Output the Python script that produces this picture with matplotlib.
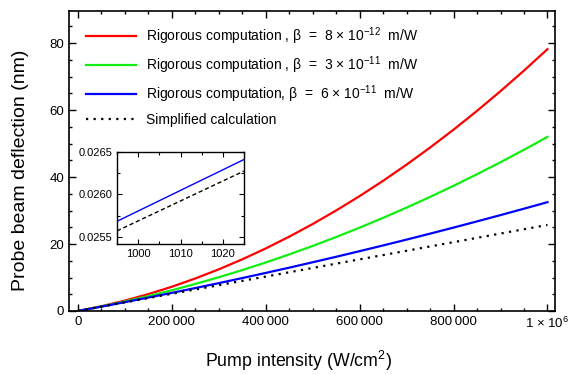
import matplotlib
matplotlib.use("Agg")
import matplotlib.pyplot as plt
from matplotlib.ticker import MultipleLocator, FixedLocator

plt.rcParams['font.family'] = ['Liberation Sans', 'DejaVu Sans']
plt.rcParams['mathtext.fontset'] = 'custom'
plt.rcParams['mathtext.rm'] = 'Liberation Sans'
plt.rcParams['mathtext.it'] = 'Liberation Sans:italic'
plt.rcParams['mathtext.bf'] = 'Liberation Sans:bold'

# ---- data ----
intensity = [0, 50000, 100000, 150000, 200000, 250000, 300000, 350000, 400000, 450000,
             500000, 550000, 600000, 650000, 700000, 750000, 800000, 850000, 900000,
             950000, 1000000]
red_beta8e12 = [0, 1.42, 3.10, 5.04, 7.24, 9.71, 12.44, 15.43, 18.68, 22.20, 25.98,
                30.02, 34.32, 38.89, 43.72, 48.81, 54.16, 59.78, 65.66, 71.80, 78.2]
green_beta3e11 = [0, 1.35, 2.83, 4.45, 6.19, 8.07, 10.08, 12.22, 14.49, 16.89, 19.43,
                  22.09, 24.89, 27.82, 30.88, 34.07, 37.39, 40.85, 44.43, 48.15, 52.0]
blue_beta6e11 = [0, 1.30, 2.64, 4.01, 5.41, 6.85, 8.32, 9.83, 11.37, 12.94, 14.55,
                 16.19, 17.87, 19.58, 21.32, 23.10, 24.91, 26.76, 28.64, 30.55, 32.5]
simplified_x = [0, 1000000]
simplified_y = [0, 25.7]

inset_x = [995, 1025]
inset_blue = [0.025683, 0.026412]
inset_simplified = [0.02557, 0.026276]

labels = [r'Rigorous computation , β  =  8 × 10$^{-12}$  m/W',
          r'Rigorous computation , β  =  3 × 10$^{-11}$  m/W',
          r'Rigorous computation, β  =  6 × 10$^{-11}$  m/W',
          'Simplified calculation']
xtick_vals = [0, 200000, 400000, 600000, 800000, 1000000]
xtick_labels = ['0', '200\u2009000', '400\u2009000', '600\u2009000', '800\u2009000',
                r'1 × 10$^{6}$']
ytick_vals = [0, 20, 40, 60, 80]
inset_xticks = [1000, 1010, 1020]
inset_yticks = [0.0255, 0.0260, 0.0265]
inset_ylabels = ['0.0255', '0.0260', '0.0265']

fig = plt.figure(figsize=(5.75, 3.75), dpi=100)
ax = fig.add_axes([0.12, 0.1707, 0.8452, 0.80])

ax.plot(intensity, red_beta8e12, color='#ff0000', lw=1.6, label=labels[0])
ax.plot(intensity, green_beta3e11, color='#11ee11', lw=1.6, label=labels[1])
ax.plot(intensity, blue_beta6e11, color='#0000ff', lw=1.6, label=labels[2])
ax.plot(simplified_x, simplified_y, color='black', lw=1.6, linestyle=(0, (1, 2.4)),
        label=labels[3])

ax.set_xlim(-19000, 1016000)
ax.set_ylim(0, 89.6)
ax.xaxis.set_major_locator(FixedLocator(xtick_vals))
ax.set_xticklabels(xtick_labels)
ax.xaxis.set_minor_locator(MultipleLocator(50000))
ax.yaxis.set_major_locator(FixedLocator(ytick_vals))
ax.yaxis.set_minor_locator(MultipleLocator(5))
ax.tick_params(which='both', direction='in', top=True, right=True, labelsize=9.5, width=1)
ax.tick_params(which='major', length=5)
ax.tick_params(which='minor', length=2.5)
for s in ax.spines.values():
    s.set_linewidth(1.2)

ax.set_xlabel('Pump intensity (W/cm$^{2}$)', fontsize=12.8)
ax.xaxis.set_label_coords(0.473, -0.128)
ax.set_ylabel('Probe beam deflection (nm)', fontsize=14)
ax.yaxis.set_label_coords(-0.083, 0.47)

leg = ax.legend(loc='upper left', frameon=False, fontsize=10, handlelength=3.6,
                labelspacing=0.55, handletextpad=0.75, borderaxespad=0.3,
                bbox_to_anchor=(0.015, 0.985))

# inset
axi = fig.add_axes([0.2035, 0.3493, 0.2209, 0.2453])
axi.plot(inset_x, inset_blue, color='#0000ff', lw=1.0)
axi.plot(inset_x, inset_simplified, color='black', lw=1.0, linestyle=(0, (3, 2)))
axi.set_xlim(995, 1025)
axi.set_ylim(0.025415, 0.0265)
axi.xaxis.set_major_locator(FixedLocator(inset_xticks))
axi.xaxis.set_minor_locator(MultipleLocator(5))
axi.yaxis.set_major_locator(FixedLocator(inset_yticks))
axi.set_yticklabels(inset_ylabels)
axi.yaxis.set_minor_locator(MultipleLocator(0.00025))
axi.tick_params(which='both', direction='in', top=True, right=True, labelsize=8, width=0.8)
axi.tick_params(which='major', length=3.5)
axi.tick_params(which='minor', length=2)
for s in axi.spines.values():
    s.set_linewidth(1.0)

fig.savefig('out.png', dpi=100)
